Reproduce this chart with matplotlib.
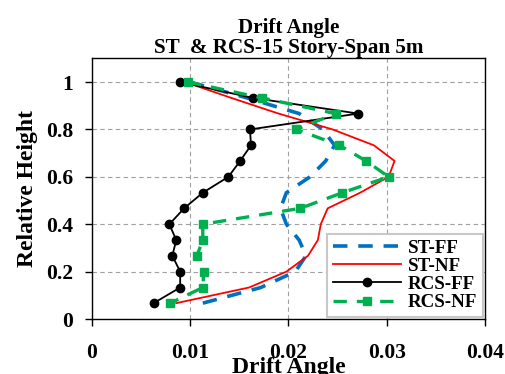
import numpy as np
import matplotlib
matplotlib.use("Agg")
import matplotlib.pyplot as plt

plt.rcParams['font.family'] = ['Liberation Serif', 'DejaVu Serif']
plt.rcParams['font.weight'] = 'bold'

# relative height of each story (15 stories, top to bottom)
heights = [1.0, 0.933, 0.867, 0.8, 0.733, 0.667, 0.6, 0.533,
           0.467, 0.4, 0.333, 0.267, 0.2, 0.133, 0.067]

st_ff = [0.0100, 0.0158, 0.0211, 0.0235, 0.0247, 0.0238, 0.0222, 0.0198,
         0.0192, 0.0198, 0.0211, 0.0218, 0.0207, 0.0172, 0.0113]
st_nf = [0.0095, 0.0142, 0.0190, 0.0245, 0.0287, 0.0308, 0.0302, 0.0273,
         0.0240, 0.0233, 0.0230, 0.0220, 0.0198, 0.0160, 0.0086]
rcs_ff = [0.0090, 0.0164, 0.0271, 0.0161, 0.0162, 0.0151, 0.0139, 0.0113,
          0.0094, 0.0079, 0.0086, 0.0082, 0.0090, 0.0090, 0.0063]
rcs_nf = [0.0098, 0.0173, 0.0248, 0.0208, 0.0252, 0.0279, 0.0302, 0.0255,
          0.0212, 0.0113, 0.0113, 0.0107, 0.0114, 0.0113, 0.0080]

xticks = [0, 0.01, 0.02, 0.03, 0.04]
xticklabels = ["0", "0.01", "0.02", "0.03", "0.04"]
yticks = [0, 0.2, 0.4, 0.6, 0.8, 1.0]
yticklabels = ["0", "0.2", "0.4", "0.6", "0.8", "1"]

fig = plt.figure(figsize=(5.06, 3.74), dpi=100)
ax = fig.add_axes([0.1812, 0.147, 0.7773, 0.697])

ax.plot(st_ff, heights, color="#0070C0", lw=2.6, ls=(0, (4, 3)), label="ST-FF")
ax.plot(st_nf, heights, color="#FF0000", lw=1.3, label="ST-NF")
ax.plot(rcs_ff, heights, color="black", lw=1.3, marker="o", ms=6, label="RCS-FF")
ax.plot(rcs_nf, heights, color="#00B050", lw=2.4, ls=(0, (4, 3)),
        marker="s", ms=6, label="RCS-NF")

ax.set_xlim(0, 0.04)
ax.set_ylim(0, 1.1)
ax.set_xticks(xticks)
ax.set_xticklabels(xticklabels)
ax.set_yticks(yticks)
ax.set_yticklabels(yticklabels)
ax.tick_params(direction="out", length=5, width=1, labelsize=15.5)
ax.tick_params(axis="x", pad=12.5)
ax.tick_params(axis="y", pad=8.5)
ax.grid(True, color="#A0A0A0", ls=(0, (4, 3)), lw=0.8)
ax.set_axisbelow(True)
for s in ax.spines.values():
    s.set_linewidth(1)

ax.set_title("Drift Angle\nST  & RCS-15 Story-Span 5m", fontsize=15.2,
             fontweight="bold", pad=2, linespacing=1.0)
ax.set_xlabel("Drift Angle", fontsize=17, fontweight="bold", labelpad=-4.5)
ax.set_ylabel("Relative Height", fontsize=17, fontweight="bold", labelpad=5.5)

leg = ax.legend(loc="lower right", fontsize=13.7, labelspacing=0.05,
                handlelength=3.6, handletextpad=0.35, borderpad=0.3,
                borderaxespad=0.1, fancybox=False, framealpha=1)
leg.get_frame().set_edgecolor("#C8C8C8")
leg.get_frame().set_linewidth(1.5)

fig.savefig("out.png", dpi=100)
